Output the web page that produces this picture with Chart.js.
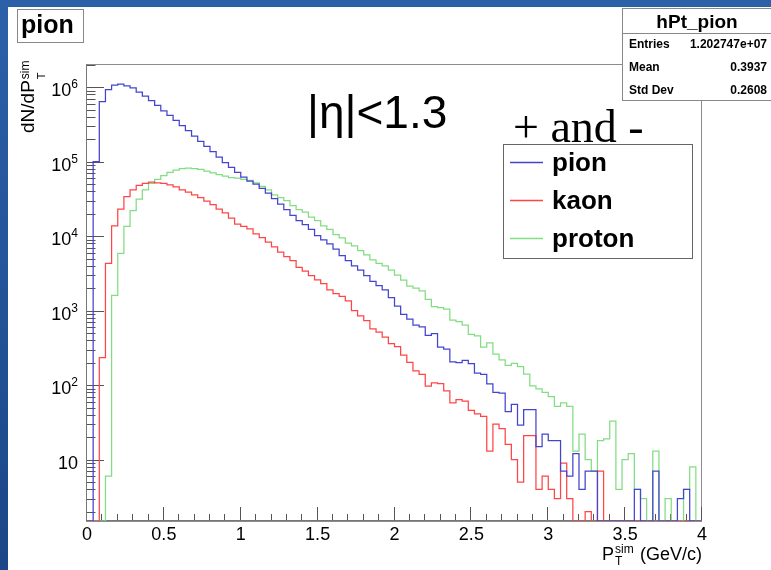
<!DOCTYPE html>
<html>
<head>
<meta charset="utf-8">
<script src="https://cdn.jsdelivr.net/npm/chart.js@4/dist/chart.umd.min.js"></script>
<style>
  html, body { margin: 0; padding: 0; background: #1f4b8e; }
  #grafica { display: block; }
</style>
</head>
<body>
<canvas id="grafica" width="771" height="570"></canvas>
<script>
// hPt: 100 bins de 0.04 GeV/c entre 0 y 4
const binWidth = 0.04;

const pion = [
  0, 100000, 640000, 930000, 1070000, 1100000, 1040000, 980000, 860000, 760000,
  660000, 570000, 480000, 420000, 360000, 305000, 262000, 220000, 188000, 161000,
  137000, 115000, 97000, 84000, 72000, 62000, 55000, 50000, 44000, 38000,
  32000, 27000, 22800, 19000, 16200, 14300, 12300, 10200, 8900, 7900,
  6700, 5500, 4700, 4000, 3500, 2950, 2470, 2170, 1900, 1500,
  1150, 890, 770, 640, 605, 465, 490, 325, 305, 205,
  200, 215, 195, 145, 140, 104, 80, 78, 44, 55,
  29, 47, 47, 15, 22, 18, 18, 7, 6, 12,
  4, 7, 7, 0, 0, 0, 0, 0, 0, 4,
  0, 0, 7, 0, 0, 0, 3, 4, 0, 0
];

const kaon = [
  0, 0, 235, 4300, 13800, 23000, 34000, 42000, 48000, 51000,
  53000, 52000, 51000, 49000, 46000, 42000, 39000, 36000, 33000, 29500,
  26500, 23000, 20500, 17500, 14500, 13500, 12500, 10700, 9600, 8300,
  7200, 6100, 5300, 4700, 3800, 3400, 2950, 2600, 2300, 1900,
  1700, 1550, 1350, 1000, 850, 735, 570, 515, 440, 360,
  330, 253, 202, 155, 140, 97, 107, 105, 84, 58,
  64, 61, 46, 41, 38, 13, 30, 26, 16, 10,
  5, 21, 21, 4, 6, 4, 3, 9, 3, 0,
  0, 2, 0, 7, 0, 0, 0, 0, 0, 0,
  0, 0, 0, 0, 0, 0, 0, 0, 0, 0
];

const proton = [
  0, 0, 0, 6, 1600, 5900, 13500, 22000, 31500, 42000,
  51000, 58000, 65000, 72000, 77000, 81000, 82000, 81000, 79000, 75000,
  71000, 67000, 64000, 61000, 60000, 58000, 56000, 52000, 46500, 42000,
  36000, 33000, 30000, 25700, 22800, 21000, 18000, 16200, 13800, 12300,
  10500, 9500, 8100, 7400, 6400, 5600, 4800, 4300, 4000, 3500,
  3000, 2580, 2140, 2000, 1850, 1420, 1130, 1100, 1050, 745,
  710, 640, 480, 460, 325, 370, 260, 218, 184, 196,
  177, 141, 98, 89, 80, 70, 52, 58, 52, 13,
  22, 10, 7, 18, 19, 33, 4, 10, 12, 4,
  3, 0, 13, 0, 3, 0, 0, 4, 8, 0
];

const xMajorTicks = [0, 0.5, 1, 1.5, 2, 2.5, 3, 3.5, 4];
const xTickLabels = ['0', '0.5', '1', '1.5', '2', '2.5', '3', '3.5', '4'];
const yDecades = [10, 100, 1000, 10000, 100000, 1000000];
const yDecadeExp = ['', '2', '3', '4', '5', '6'];

const yMin = 1.5;
const yMax = 2.05e6;

const statsTitle = 'hPt_pion';
const statsNames = ['Entries', 'Mean', 'Std Dev'];
const statsValues = ['1.202747e+07', '0.3937', '0.2608'];

const colores = { pion: '#4444cf', kaon: '#ff4545', proton: '#82dd82' };
const SANS = '"Liberation Sans", Arial, Helvetica, sans-serif';

// puntos del histograma: borde inferior de cada bin (bins vacios al fondo del eje)
function puntosHistograma(valores) {
  const pts = valores.map((v, i) => ({ x: i * binWidth, y: v > 0 ? v : yMin }));
  pts.push({ x: valores.length * binWidth, y: yMin });
  return pts;
}

function crearSerie(label, valores, color) {
  return {
    label,
    data: puntosHistograma(valores),
    borderColor: color,
    backgroundColor: 'transparent',
    borderWidth: 1.25,
    pointRadius: 0,
    stepped: 'before',
    tension: 0,
    fill: false
  };
}

// texto con superindice y subindice apilados (estilo ROOT)
function textoIndices(ctx, x, y, base, sub, sup, size) {
  ctx.font = size + 'px ' + SANS;
  ctx.textAlign = 'left';
  ctx.fillText(base, x, y);
  const w = ctx.measureText(base).width;
  const small = Math.round(size * 0.65);
  ctx.font = small + 'px ' + SANS;
  if (sup) ctx.fillText(sup, x + w + 1, y - size * 0.38);
  if (sub) ctx.fillText(sub, x + w + 1, y + size * 0.3);
}

const estiloRoot = {
  id: 'estiloRoot',
  beforeDraw(chart) {
    const ctx = chart.ctx;
    const g = ctx.createLinearGradient(0, 0, 0, chart.height);
    g.addColorStop(0, '#2c60a8');
    g.addColorStop(1, '#1b4688');
    ctx.save();
    ctx.fillStyle = g;
    ctx.fillRect(0, 0, chart.width, chart.height);
    ctx.fillStyle = '#ffffff';
    ctx.fillRect(8, 7, chart.width - 8, chart.height - 7);
    ctx.restore();
  },
  beforeDatasetsDraw(chart) {
    const ctx = chart.ctx;
    const { left, right, top, bottom } = chart.chartArea;
    const xs = chart.scales.x;
    const ys = chart.scales.y;
    ctx.save();
    // marco
    ctx.strokeStyle = '#8c8c8c';
    ctx.lineWidth = 1;
    ctx.strokeRect(left - 0.5, top + 0.5, right - left, bottom - top);

    // ticks eje y (log)
    ctx.strokeStyle = '#555';
    ctx.beginPath();
    for (let d = 1; d <= 1e7; d *= 10) {
      for (let m = 1; m <= 9; m++) {
        const v = m * d;
        if (v < yMin || v > yMax) continue;
        const y = Math.round(ys.getPixelForValue(v)) + 0.5;
        ctx.moveTo(left, y);
        ctx.lineTo(left + (m === 1 ? 17 : 8.5), y);
      }
    }
    // ticks eje x
    for (let k = 0; k <= 40; k++) {
      const x = Math.round(xs.getPixelForValue(k * 0.1)) - 0.5;
      ctx.moveTo(x, bottom);
      ctx.lineTo(x, bottom - (k % 5 === 0 ? 14 : 7));
    }
    ctx.stroke();
    ctx.strokeStyle = '#777';
    ctx.beginPath();
    ctx.moveTo(left, bottom - 0.5);
    ctx.lineTo(right, bottom - 0.5);
    ctx.moveTo(left - 0.5, top);
    ctx.lineTo(left - 0.5, bottom);
    ctx.stroke();

    // etiquetas
    ctx.fillStyle = '#000';
    ctx.textBaseline = 'alphabetic';
    ctx.font = '18px ' + SANS;
    ctx.textAlign = 'center';
    xMajorTicks.forEach((v, i) => {
      ctx.fillText(xTickLabels[i], xs.getPixelForValue(v), bottom + 19);
    });
    yDecades.forEach((v, i) => {
      const y = ys.getPixelForValue(v);
      const exp = yDecadeExp[i];
      ctx.font = '12px ' + SANS;
      const we = exp ? ctx.measureText(exp).width : 0;
      ctx.font = '18px ' + SANS;
      ctx.textAlign = 'right';
      ctx.fillText('10', 78 - we, y + 9);
      if (exp) {
        ctx.font = '12px ' + SANS;
        ctx.textAlign = 'left';
        ctx.fillText(exp, 78 - we, y + 1);
      }
    });
    ctx.restore();
  },
  afterDraw(chart) {
    const ctx = chart.ctx;
    ctx.save();
    ctx.fillStyle = '#000';
    ctx.textBaseline = 'alphabetic';

    // titulo eje x
    textoIndices(ctx, 602, 560, 'P', 'T', 'sim', 18);
    ctx.font = '18px ' + SANS;
    ctx.textAlign = 'right';
    ctx.fillText('(GeV/c)', 702, 560);

    // titulo eje y (rotado)
    ctx.save();
    ctx.translate(34, 133);
    ctx.rotate(-Math.PI / 2);
    ctx.font = '19px ' + SANS;
    ctx.textAlign = 'left';
    ctx.fillText('dN/dP', 0, 0);
    const wy = ctx.measureText('dN/dP').width;
    ctx.font = '12px ' + SANS;
    ctx.fillText('sim', wy + 1, -5);
    ctx.font = '11px ' + SANS;
    ctx.fillText('T', wy + 1, 11);
    ctx.restore();

    // caja de titulo
    ctx.fillStyle = '#fff';
    ctx.fillRect(17, 9, 66, 33);
    ctx.strokeStyle = '#888';
    ctx.lineWidth = 1;
    ctx.strokeRect(17.5, 9.5, 66, 33);
    ctx.fillStyle = '#000';
    ctx.font = 'bold 25px ' + SANS;
    ctx.textAlign = 'left';
    ctx.fillText('pion', 21, 33);

    // caja de estadisticas
    ctx.fillStyle = '#fff';
    ctx.fillRect(622, 8, 150, 92);
    ctx.strokeStyle = '#888';
    ctx.strokeRect(622.5, 8.5, 150, 92);
    ctx.beginPath();
    ctx.moveTo(622, 33.5);
    ctx.lineTo(771, 33.5);
    ctx.stroke();
    ctx.fillStyle = '#000';
    ctx.font = 'bold 19px ' + SANS;
    ctx.textAlign = 'center';
    ctx.fillText(statsTitle, 697, 28);
    ctx.font = 'bold 12px ' + SANS;
    statsNames.forEach((n, i) => {
      const y = 48 + i * 23;
      ctx.textAlign = 'left';
      ctx.fillText(n, 629, y);
      ctx.textAlign = 'right';
      ctx.fillText(statsValues[i], 767, y);
    });

    // textos del panel
    ctx.textAlign = 'left';
    ctx.font = '46px ' + SANS;
    ctx.fillText('|\u03b7|<1.3', 307, 128);
    ctx.font = '46px "Liberation Serif", "Times New Roman", serif';
    ctx.fillText('+ and -', 513, 142);

    // leyenda
    ctx.fillStyle = '#fff';
    ctx.fillRect(503, 144, 189, 114);
    ctx.strokeStyle = '#666';
    ctx.strokeRect(503.5, 144.5, 189, 114);
    const bases = [171, 209, 247];
    chart.data.datasets.forEach((ds, i) => {
      ctx.strokeStyle = ds.borderColor;
      ctx.lineWidth = 1.3;
      ctx.beginPath();
      ctx.moveTo(510, bases[i] - 8.5);
      ctx.lineTo(543, bases[i] - 8.5);
      ctx.stroke();
      ctx.fillStyle = '#000';
      ctx.font = 'bold 26px ' + SANS;
      ctx.fillText(ds.label, 552, bases[i]);
    });
    ctx.restore();
  }
};

const ctx = document.getElementById('grafica').getContext('2d');
const grafica = new Chart(ctx, {
  type: 'line',
  data: {
    datasets: [
      crearSerie('pion', pion, colores.pion),
      crearSerie('kaon', kaon, colores.kaon),
      crearSerie('proton', proton, colores.proton)
    ]
  },
  options: {
    responsive: false,
    animation: false,
    events: [],
    layout: { padding: { left: 87, top: 64, right: 69, bottom: 49 } },
    plugins: {
      legend: { display: false },
      tooltip: { enabled: false },
      title: { display: false }
    },
    scales: {
      x: { type: 'linear', min: 0, max: 4, display: false },
      y: { type: 'logarithmic', min: yMin, max: yMax, display: false }
    }
  },
  plugins: [estiloRoot]
});
</script>
</body>
</html>
